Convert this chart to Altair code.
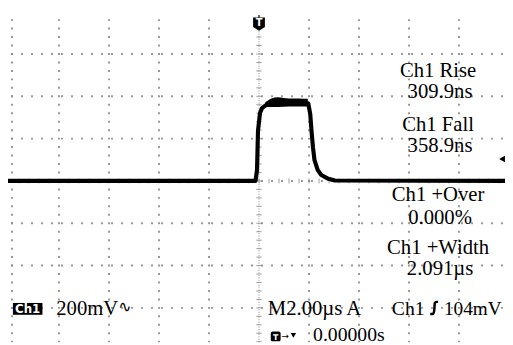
import altair as alt
import numpy as np
import pandas as pd

# ---- data ----
# time in microseconds relative to trigger, voltage in mV (200 mV/div, 2 us/div)
trace_t = [-10.2, -0.14, -0.08, -0.04, 0.04, 0.12, 0.28, 0.51, 0.75, 1.46, 1.97,
           2.05, 2.10, 2.16, 2.22, 2.35, 2.49, 2.74, 3.03, 10.2]
trace_v = [0, 0, 51, 237, 321, 344, 358, 367, 372, 370, 367,
           316, 237, 158, 98, 51, 28, 12, 2, 0]
# noisy plateau envelope
band_t = [0.25, 0.5, 0.75, 1.2, 1.6, 1.95]
band_lo = [350, 350, 350, 352, 352, 352]
band_hi = [372, 390, 396, 390, 390, 388]

meas_names = ["Ch1 Rise", "Ch1 Fall", "Ch1 +Over", "Ch1 +Width"]
meas_values = ["309.9ns", "358.9ns", "0.000%", "2.091\u00b5s"]
ch_scale = "200mV"
timebase = "M2.00\u00b5s A"
trig_src = "Ch1"
trig_level_txt = "104mV"
trig_level = 104
trig_pos = "0.00000s"

# ---- screen geometry ----
H = 337
XD = [-10.04, 9.84]
YD = [(173 - H) / 43 * 200, 804.7]
xs = alt.Scale(domain=XD, nice=False, zero=False)
ys = alt.Scale(domain=YD, nice=False, zero=False)

col_t = [-9.88, -8, -6, -4, -2, 2, 4, 6, 8]
row_v = [-600, -400, -200, 200, 400, 600]

dots = []
for c in col_t:
    for v in np.arange(-760, 761, 40):
        dots.append((c, v))
for r in row_v:
    for t in np.arange(-9.88, 9.9, 0.4):
        dots.append((t, r))
for t in np.arange(-9.88, 9.9, 0.4):
    dots.append((t, 0))
grid_df = pd.DataFrame(dots, columns=["t", "v"])

vt = pd.DataFrame({"v": np.arange(-760, 761, 40), "t": 0.0})
ht = pd.DataFrame({"t": np.arange(-9.6, 9.7, 0.4), "v": 0.0})

grid = alt.Chart(grid_df).mark_square(size=4, color="#8c8c8c", opacity=0.9, clip=True).encode(
    x=alt.X("t:Q", scale=xs, axis=None), y=alt.Y("v:Q", scale=ys, axis=None))

center_v = alt.Chart(pd.DataFrame({"t": [0.0]})).mark_rule(
    color="#8c8c8c", strokeDash=[1, 1.5], strokeWidth=1).encode(
    x=alt.X("t:Q", scale=xs, axis=None), y=alt.value(6), y2=alt.value(H))

vticks = alt.Chart(vt).mark_point(shape="M-1,0L1,0", size=30, filled=False,
                                  color="#777", strokeWidth=1, clip=True).encode(
    x=alt.X("t:Q", scale=xs, axis=None), y=alt.Y("v:Q", scale=ys, axis=None))
hticks = alt.Chart(ht).mark_point(shape="M0,-1L0,1", size=25, filled=False,
                                  color="#777", strokeWidth=1).encode(
    x=alt.X("t:Q", scale=xs, axis=None), y=alt.Y("v:Q", scale=ys, axis=None))

band = alt.Chart(pd.DataFrame({"t": band_t, "lo": band_lo, "hi": band_hi})).mark_area(
    color="black", interpolate="monotone").encode(
    x=alt.X("t:Q", scale=xs, axis=None), y=alt.Y("lo:Q", scale=ys, axis=None), y2="hi:Q")

trace = alt.Chart(pd.DataFrame({"t": trace_t, "v": trace_v})).mark_line(
    color="black", strokeWidth=4.2, clip=True, strokeJoin="round").encode(
    x=alt.X("t:Q", scale=xs, axis=None), y=alt.Y("v:Q", scale=ys, axis=None))

layers = [grid, center_v, vticks, hticks, band, trace]

SERIF = "Liberation Serif"


def txt(s, x, y, size=21, align="left", font=SERIF, color="black", weight="normal"):
    return alt.Chart(pd.DataFrame({"s": [s]})).mark_text(
        font=font, fontSize=size, align=align, baseline="alphabetic", color=color,
        fontWeight=weight).encode(x=alt.value(x), y=alt.value(y), text="s:N")


# measurement readouts
bl = [67, 89, 122, 144, 193, 217, 247, 269]
for i, (n, v) in enumerate(zip(meas_names, meas_values)):
    layers.append(txt(n, 437, bl[2 * i], size=21, align="center"))
    layers.append(txt(v, 439, bl[2 * i + 1], size=21, align="center"))

# trigger position marker (top)
layers.append(alt.Chart(pd.DataFrame({"t": [0.0]})).mark_point(
    shape="M-1,-1.1L1,-1.1L1,0.5L0,1.15L-1,0.5Z", size=144, filled=True, color="black",
    opacity=1).encode(x=alt.X("t:Q", scale=xs, axis=None), y=alt.value(13.5)))
layers.append(alt.Chart(pd.DataFrame({"t": [0.0]})).mark_rule(color="black", strokeWidth=1.2).encode(
    x=alt.X("t:Q", scale=xs, axis=None), y=alt.value(4.5), y2=alt.value(7)))
layers.append(alt.Chart(pd.DataFrame({"t": [0.0], "s": ["T"]})).mark_text(
    font="DejaVu Sans", fontSize=10, fontWeight="bold", color="white", baseline="middle").encode(
    x=alt.X("t:Q", scale=xs, axis=None), y=alt.value(13), text="s:N"))

# trigger level arrow (right)
layers.append(alt.Chart(pd.DataFrame({"v": [trig_level]})).mark_point(
    shape="triangle-left", size=45, filled=True, color="black", opacity=1).encode(
    x=alt.value(502), y=alt.Y("v:Q", scale=ys, axis=None)))

# channel box bottom-left
layers.append(alt.Chart(pd.DataFrame({"a": [0]})).mark_rect(color="black").encode(
    x=alt.value(5), x2=alt.value(35), y=alt.value(297), y2=alt.value(309)))
layers.append(txt("Ch1", 20, 307.5, size=12, align="center", font="DejaVu Sans",
                  color="white", weight="bold"))
layers.append(txt(ch_scale, 49, 309))
layers.append(txt("\u223f", 112, 306, size=16, font="DejaVu Sans"))

# timebase / trigger readout
layers.append(txt(timebase, 264, 309))
layers.append(txt(trig_src, 390, 309, size=20))
layers.append(alt.Chart(pd.DataFrame({"a": [0]})).mark_point(
    shape="M-0.65,1L-0.2,1Q0,1 0.05,0L0.1,-0.8Q0.2,-1 0.4,-1L0.65,-1", size=150, filled=False,
    strokeWidth=2.5, color="black", opacity=1).encode(x=alt.value(433), y=alt.value(302)))
layers.append(txt(trig_level_txt, 443, 309, size=19.5))

# trigger position readout (at the screen's lower edge)
layers.append(alt.Chart(pd.DataFrame({"a": [0]})).mark_rect(color="black", cornerRadius=2).encode(
    x=alt.value(267), x2=alt.value(277), y=alt.value(326), y2=alt.value(336)))
layers.append(txt("T", 272, 334.5, size=8, align="center", font="DejaVu Sans",
                  color="white", weight="bold"))
layers.append(txt("\u2192", 278, 334, size=9, font="DejaVu Sans"))
layers.append(alt.Chart(pd.DataFrame({"a": [0]})).mark_point(
    shape="triangle-down", size=30, filled=True, color="black", opacity=1).encode(
    x=alt.value(290), y=alt.value(330)))
layers.append(txt(trig_pos, 310, 336, size=20))

chart = alt.layer(*layers).properties(
    width=505, height=H, padding=0, autosize=alt.AutoSizeParams(type="none"),
    background="white"
).configure_view(stroke=None)

chart.save("out.html", embed_options={"renderer": "svg", "actions": False})
